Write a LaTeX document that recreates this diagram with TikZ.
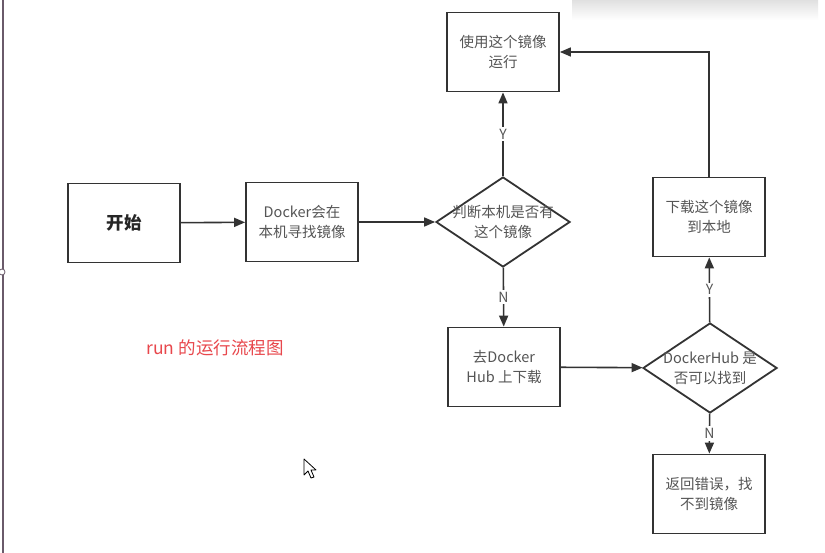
\documentclass[tikz,border=0pt]{standalone}
\usepackage{fontspec}
\setmainfont{Noto Sans CJK SC}
\usepackage{tikz}
\usetikzlibrary{shapes.geometric, arrows.meta, positioning}
\definecolor{linegray}{HTML}{333333}
\definecolor{txtgray}{HTML}{555555}
\definecolor{titlered}{HTML}{E8474C}
\definecolor{edgegray}{HTML}{6A5A6A}
\tikzset{
	box/.style={draw=linegray, line width=1.8pt, minimum width=112pt, minimum height=79pt,
		align=center, text=txtgray, font=\fontsize{14.5}{20}\selectfont},
	dia/.style={draw=linegray, line width=1.8pt, diamond, minimum width=134pt, minimum height=90pt, inner sep=0pt},
	diatxt/.style={align=center, text=txtgray, font=\fontsize{14.5}{20}\selectfont},
	arr/.style={-{Triangle[length=11pt,width=9pt]}, draw=linegray, line width=1.6pt},
	yn/.style={fill=white, text=txtgray, inner sep=2pt, font=\fontsize{14}{16}\selectfont}
}

\begin{document}
\begin{tikzpicture}[x=1pt, y=-1pt]
			% Frame
			\useasboundingbox (0,0) rectangle (825,553);
			\fill[white] (0,0) rectangle (825,553);
			\shade[top color=black!12, bottom color=white] (572,0) rectangle (818,20);
			\draw[edgegray, line width=1.4pt] (3,0) -- (3,553);
			\filldraw[draw=edgegray, fill=white, line width=0.8pt] (2,272) circle (3pt);
			
			% Boxes
			\node[box, font=\fontsize{17.5}{20}\selectfont\bfseries, text=black!85] (start) at (124,223) {开始};
			\node[box] (local) at (302,222) {Docker会在\\本机寻找镜像};
			\node[box] (use) at (503,52) {使用这个镜像\\运行};
			\node[box] (hub) at (504,367) {去Docker\\Hub 上下载};
			\node[box] (pull) at (709,217) {下载这个镜像\\到本地};
			\node[box] (err) at (709,494) {返回错误，找\\不到镜像};
			
			% Decisions
			\node[dia, label={[diatxt]center:判断本机是否有\\这个镜像}] (check) at (503,222) {};
			\node[dia, label={[diatxt]center:DockerHub 是\\否可以找到}] (found) at (710,368) {};
			
			% Title
			\node[text=titlered, font=\fontsize{17.5}{20}\selectfont] (title) at (215,348) {run 的运行流程图};
			
			% Connectors
			\draw[arr] (start) -- (local);
			\draw[arr] (local) -- (check);
			\draw[arr] (check) -- (use) node[yn, midway] {Y};
			\draw[arr] (check) -- (hub) node[yn, midway] {N};
			\draw[arr] (hub) -- (found);
			\draw[arr] (found) -- (pull) node[yn, midway] {Y};
			\draw[arr] (found) -- (err) node[yn, midway] {N};
			\draw[arr] (pull.north) |- (use.east);
			
			% Cursor
			\filldraw[draw=black, fill=white, line width=0.8pt, line join=round]
				(304,459) -- (304,475) -- (308,471) -- (311,478) -- (314,477) -- (311,470) -- (316,470) -- cycle;
		\end{tikzpicture}
\end{document}
